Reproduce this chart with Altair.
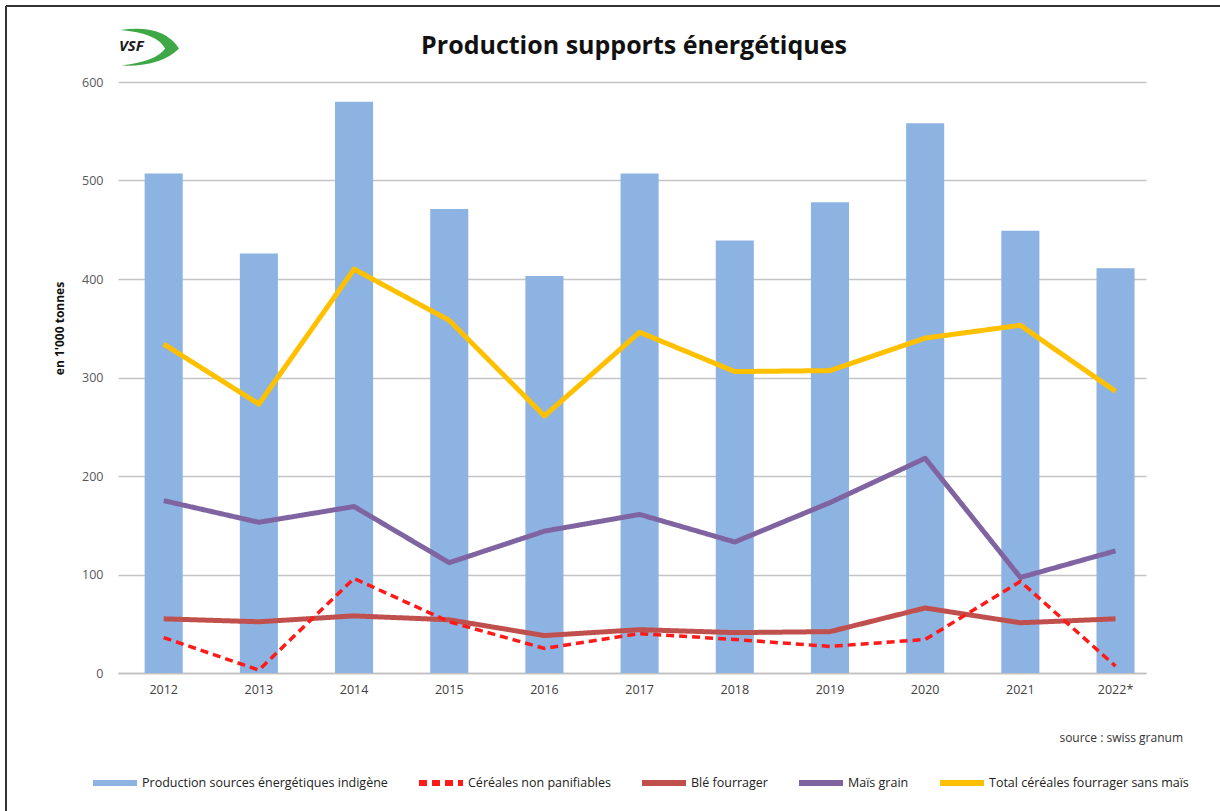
import altair as alt
import pandas as pd

years = ["2012", "2013", "2014", "2015", "2016", "2017", "2018", "2019", "2020", "2021", "2022*"]
production = [507, 426, 580, 471, 403, 507, 439, 478, 558, 449, 411]
cereales_np = [36, 3, 96, 52, 25, 40, 34, 27, 34, 93, 7]
ble = [55, 52, 58, 54, 38, 44, 41, 42, 66, 51, 55]
mais = [175, 153, 169, 112, 144, 161, 133, 173, 218, 97, 124]
total = [334, 273, 410, 358, 261, 346, 306, 307, 340, 353, 286]

series_names = [
    "Production sources énergétiques indigène",
    "Céréales non panifiables",
    "Blé fourrager",
    "Maïs grain",
    "Total céréales fourrager sans maïs",
]
series_colors = ["#8DB3E2", "#FF1A1A", "#C0504D", "#8064A2", "#FFC000"]
series_dash = [[1, 0], [8, 5], [1, 0], [1, 0], [1, 0]]

FONT = "Liberation Sans Narrow, Open Sans, sans-serif"

bar_df = pd.DataFrame({"year": years, "value": production})
solid_df = pd.concat([
    pd.DataFrame({"year": years, "value": ble, "series": series_names[2]}),
    pd.DataFrame({"year": years, "value": mais, "series": series_names[3]}),
    pd.DataFrame({"year": years, "value": total, "series": series_names[4]}),
])
dash_df = pd.DataFrame({"year": years, "value": cereales_np, "series": series_names[1]})

x_enc = alt.X("year:N", sort=years, title=None,
              scale=alt.Scale(paddingInner=0.6, paddingOuter=0.2, align=0.7),
              axis=alt.Axis(labelAngle=0, domain=True, domainColor="#BFBFBF", domainWidth=1.5,
                            ticks=False, grid=False, labelColor="#404040", labelFontSize=12.5,
                            labelFont=FONT, labelPadding=10))
y_enc = alt.Y("value:Q", title="en 1'000 tonnes",
              scale=alt.Scale(domain=[0, 600], nice=False),
              axis=alt.Axis(values=[0, 100, 200, 300, 400, 500, 600], grid=True,
                            gridColor="#C4C4C4", gridWidth=1.5, domain=False, ticks=False,
                            labelColor="#595959", labelFontSize=12.5, labelFont=FONT,
                            labelPadding=15, titleFont=FONT, titleFontSize=12,
                            titleFontWeight="bold", titleColor="#111111",
                            titleY=246, titleX=-52, titleAlign="center"))

color_scale = alt.Scale(domain=series_names, range=series_colors)
dash_scale = alt.Scale(domain=series_names, range=series_dash)

legend = alt.Legend(title=None, orient="none", legendX=-28, legendY=676, direction="horizontal",
                    symbolType="stroke", symbolSize=1936, symbolStrokeWidth=6,
                    labelFont=FONT, labelFontSize=12.5, labelColor="#222222",
                    columnPadding=19, labelOffset=2, labelLimit=400)

bars = alt.Chart(bar_df).mark_bar(color="#8DB3E2").encode(
    x=x_enc, y=y_enc,
)

solid = alt.Chart(solid_df).mark_line(strokeWidth=5, strokeJoin="round").encode(
    x=alt.X("year:N", sort=years),
    y="value:Q",
    color=alt.Color("series:N", scale=color_scale, legend=legend),
    strokeDash=alt.StrokeDash("series:N", scale=dash_scale, legend=legend),
)

dashed = alt.Chart(dash_df).mark_line(strokeWidth=3.5).encode(
    x=alt.X("year:N", sort=years),
    y="value:Q",
    color=alt.Color("series:N", scale=color_scale, legend=legend),
    strokeDash=alt.StrokeDash("series:N", scale=dash_scale, legend=legend),
)

one = alt.Data(values=[{"a": 1}])

title_txt = alt.Chart(one).mark_text(align="center", baseline="alphabetic", font=FONT,
                                      fontSize=25, fontWeight="bold", color="#111111").encode(
    x=alt.value(516), y=alt.value(-28), text=alt.value("Production supports énergétiques"))

source_txt = alt.Chart(one).mark_text(align="right", baseline="middle", font=FONT,
                                       fontSize=12, color="#333333").encode(
    x=alt.value(1065), y=alt.value(656), text=alt.value("source : swiss granum"))

swoosh = alt.Chart(one).mark_point(
    shape="M -0.9 -0.55 Q 0.5 -0.75 1 0.05 Q 0.4 0.65 -0.85 0.6 Q 0.3 0.45 0.55 0.05 Q 0.3 -0.45 -0.9 -0.55 Z",
    filled=True, color="#3DA845", opacity=1, size=3844).encode(
    x=alt.value(30), y=alt.value(-35))

vsf = alt.Chart(one).mark_text(align="left", baseline="middle", font=FONT, fontSize=15,
                                fontStyle="italic", fontWeight="bold", color="#1a1a1a").encode(
    x=alt.value(1), y=alt.value(-36), text=alt.value("VSF"))

frame_top = alt.Chart(one).mark_rule(color="#333333", strokeWidth=2).encode(
    x=alt.value(-112), x2=alt.value(1102), y=alt.value(-76))
frame_left = alt.Chart(one).mark_rule(color="#333333", strokeWidth=2).encode(
    x=alt.value(-112), y=alt.value(-76), y2=alt.value(729))

chart = alt.layer(bars, solid, dashed, title_txt, source_txt, swoosh, vsf, frame_top, frame_left).properties(
    width=1028, height=591,
    background="white",
    padding={"left": 118, "top": 82, "right": 74, "bottom": 138},
    autosize=alt.AutoSizeParams(type="none"),
).configure_view(strokeWidth=0)

chart.save("out.html", embed_options={"renderer": "svg", "actions": False})
